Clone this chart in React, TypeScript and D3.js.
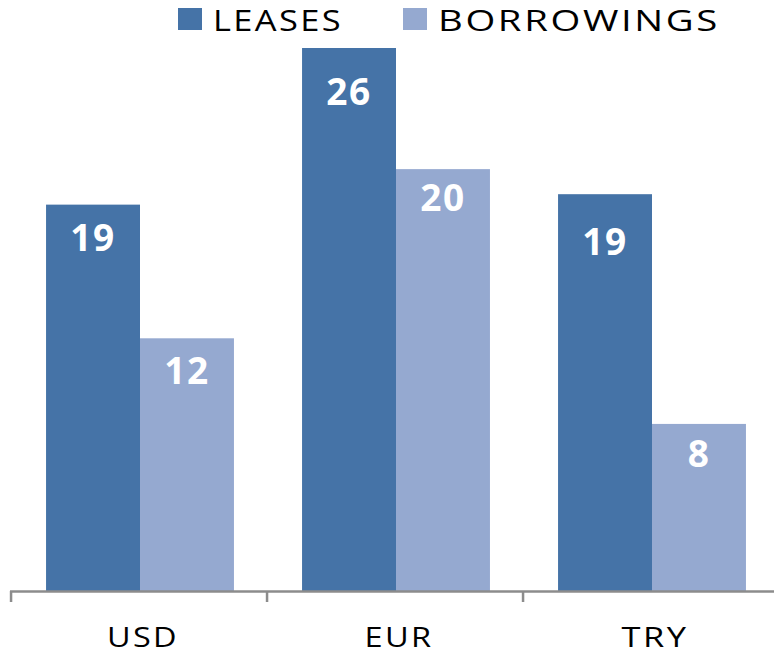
import React, { useEffect, useRef } from 'react';
import * as d3 from 'd3';

const categories = ['USD', 'EUR', 'TRY'];
const seriesNames = ['LEASES', 'BORROWINGS'];
const leases = [18.5, 26, 19];
const borrowings = [12.1, 20.2, 8];
const COLORS = ['#4573a7', '#95a9d0'];
// label baseline distance below bar top (labels are not evenly placed in the original)
const leaseLabelDy = [46, 57, 61];
const borrowLabelDy = [46, 42, 43];

const W = 774;
const H = 656;

export default function App() {
  const svgRef = useRef<SVGSVGElement>(null);

  useEffect(() => {
    if (!svgRef.current) return;
    const svg = d3.select(svgRef.current);
    svg.selectAll('*').remove();

    const baseline = 591;
    const x = d3.scaleBand<string>()
      .domain(categories)
      .range([12, 780])
      .paddingInner(0.266)
      .paddingOuter(0.133);
    const xSub = d3.scaleBand<string>()
      .domain(seriesNames)
      .range([0, x.bandwidth()]);
    const y = d3.scaleLinear().domain([0, 26]).range([baseline, 48]);

    const rows = categories.map((c, i) => ({
      cat: c,
      values: [leases[i], borrowings[i]],
      dy: [leaseLabelDy[i], borrowLabelDy[i]],
    }));

    // bars
    const groups = svg.selectAll('.cat')
      .data(rows)
      .enter().append('g')
      .attr('transform', d => `translate(${x(d.cat)},0)`);

    groups.selectAll('rect')
      .data(d => d.values.map((v, k) => ({ v, k })))
      .enter().append('rect')
      .attr('x', d => xSub(seriesNames[d.k])!)
      .attr('y', d => y(d.v))
      .attr('width', xSub.bandwidth())
      .attr('height', d => baseline - y(d.v))
      .attr('fill', d => COLORS[d.k]);

    groups.selectAll('text.val')
      .data(d => d.values.map((v, k) => ({ v, k, dy: d.dy[k] })))
      .enter().append('text')
      .attr('class', 'val')
      .attr('x', d => xSub(seriesNames[d.k])! + xSub.bandwidth() / 2)
      .attr('y', d => y(d.v) + d.dy)
      .attr('text-anchor', 'middle')
      .attr('fill', '#fff')
      .attr('font-family', 'Open Sans, sans-serif')
      .attr('font-weight', 'bold')
      .attr('font-size', '37px')
      .attr('letter-spacing', '1.5px')
      .text(d => String(Math.round(d.v)));

    // axis line + ticks
    svg.append('line')
      .attr('x1', 10).attr('x2', W)
      .attr('y1', baseline + 0.5).attr('y2', baseline + 0.5)
      .attr('stroke', '#8c8c8c').attr('stroke-width', 2.5);
    const tickXs = categories.map(c => x(c)! - 35);
    svg.selectAll('.tick')
      .data(tickXs)
      .enter().append('line')
      .attr('x1', d => d).attr('x2', d => d)
      .attr('y1', baseline).attr('y2', baseline + 11)
      .attr('stroke', '#8c8c8c').attr('stroke-width', 2.5);

    const catWidths = [72, 69, 67];
    svg.selectAll('.catlabel')
      .data(categories)
      .enter().append('text')
      .attr('x', d => x(d)! + x.bandwidth() / 2 + 3)
      .attr('y', 647)
      .attr('text-anchor', 'middle')
      .attr('fill', '#000')
      .attr('font-family', 'Open Sans, sans-serif')
      .attr('font-size', '27.5px')
      .attr('letter-spacing', '2px')
      .attr('textLength', (d, i) => catWidths[i])
      .attr('lengthAdjust', 'spacingAndGlyphs')
      .text(d => d);

    // legend
    const legendX = [178, 403];
    const legendWidths = [130, 282];
    const legend = svg.selectAll('.legend')
      .data(seriesNames)
      .enter().append('g')
      .attr('transform', (d, i) => `translate(${legendX[i]},0)`);
    legend.append('rect')
      .attr('x', 0).attr('y', 8)
      .attr('width', 24).attr('height', 22)
      .attr('fill', (d, i) => COLORS[i]);
    legend.append('text')
      .attr('x', 35)
      .attr('y', 30.5)
      .attr('fill', '#000')
      .attr('font-family', 'Open Sans, sans-serif')
      .attr('font-size', '29px')
      .attr('letter-spacing', '2px')
      .attr('textLength', (d, i) => legendWidths[i])
      .attr('lengthAdjust', 'spacingAndGlyphs')
      .text(d => d);
  }, []);

  return (
    <svg
      ref={svgRef}
      width={W}
      height={H}
      style={{ position: 'absolute', left: 0, top: 0, background: '#fff' }}
    />
  );
}
